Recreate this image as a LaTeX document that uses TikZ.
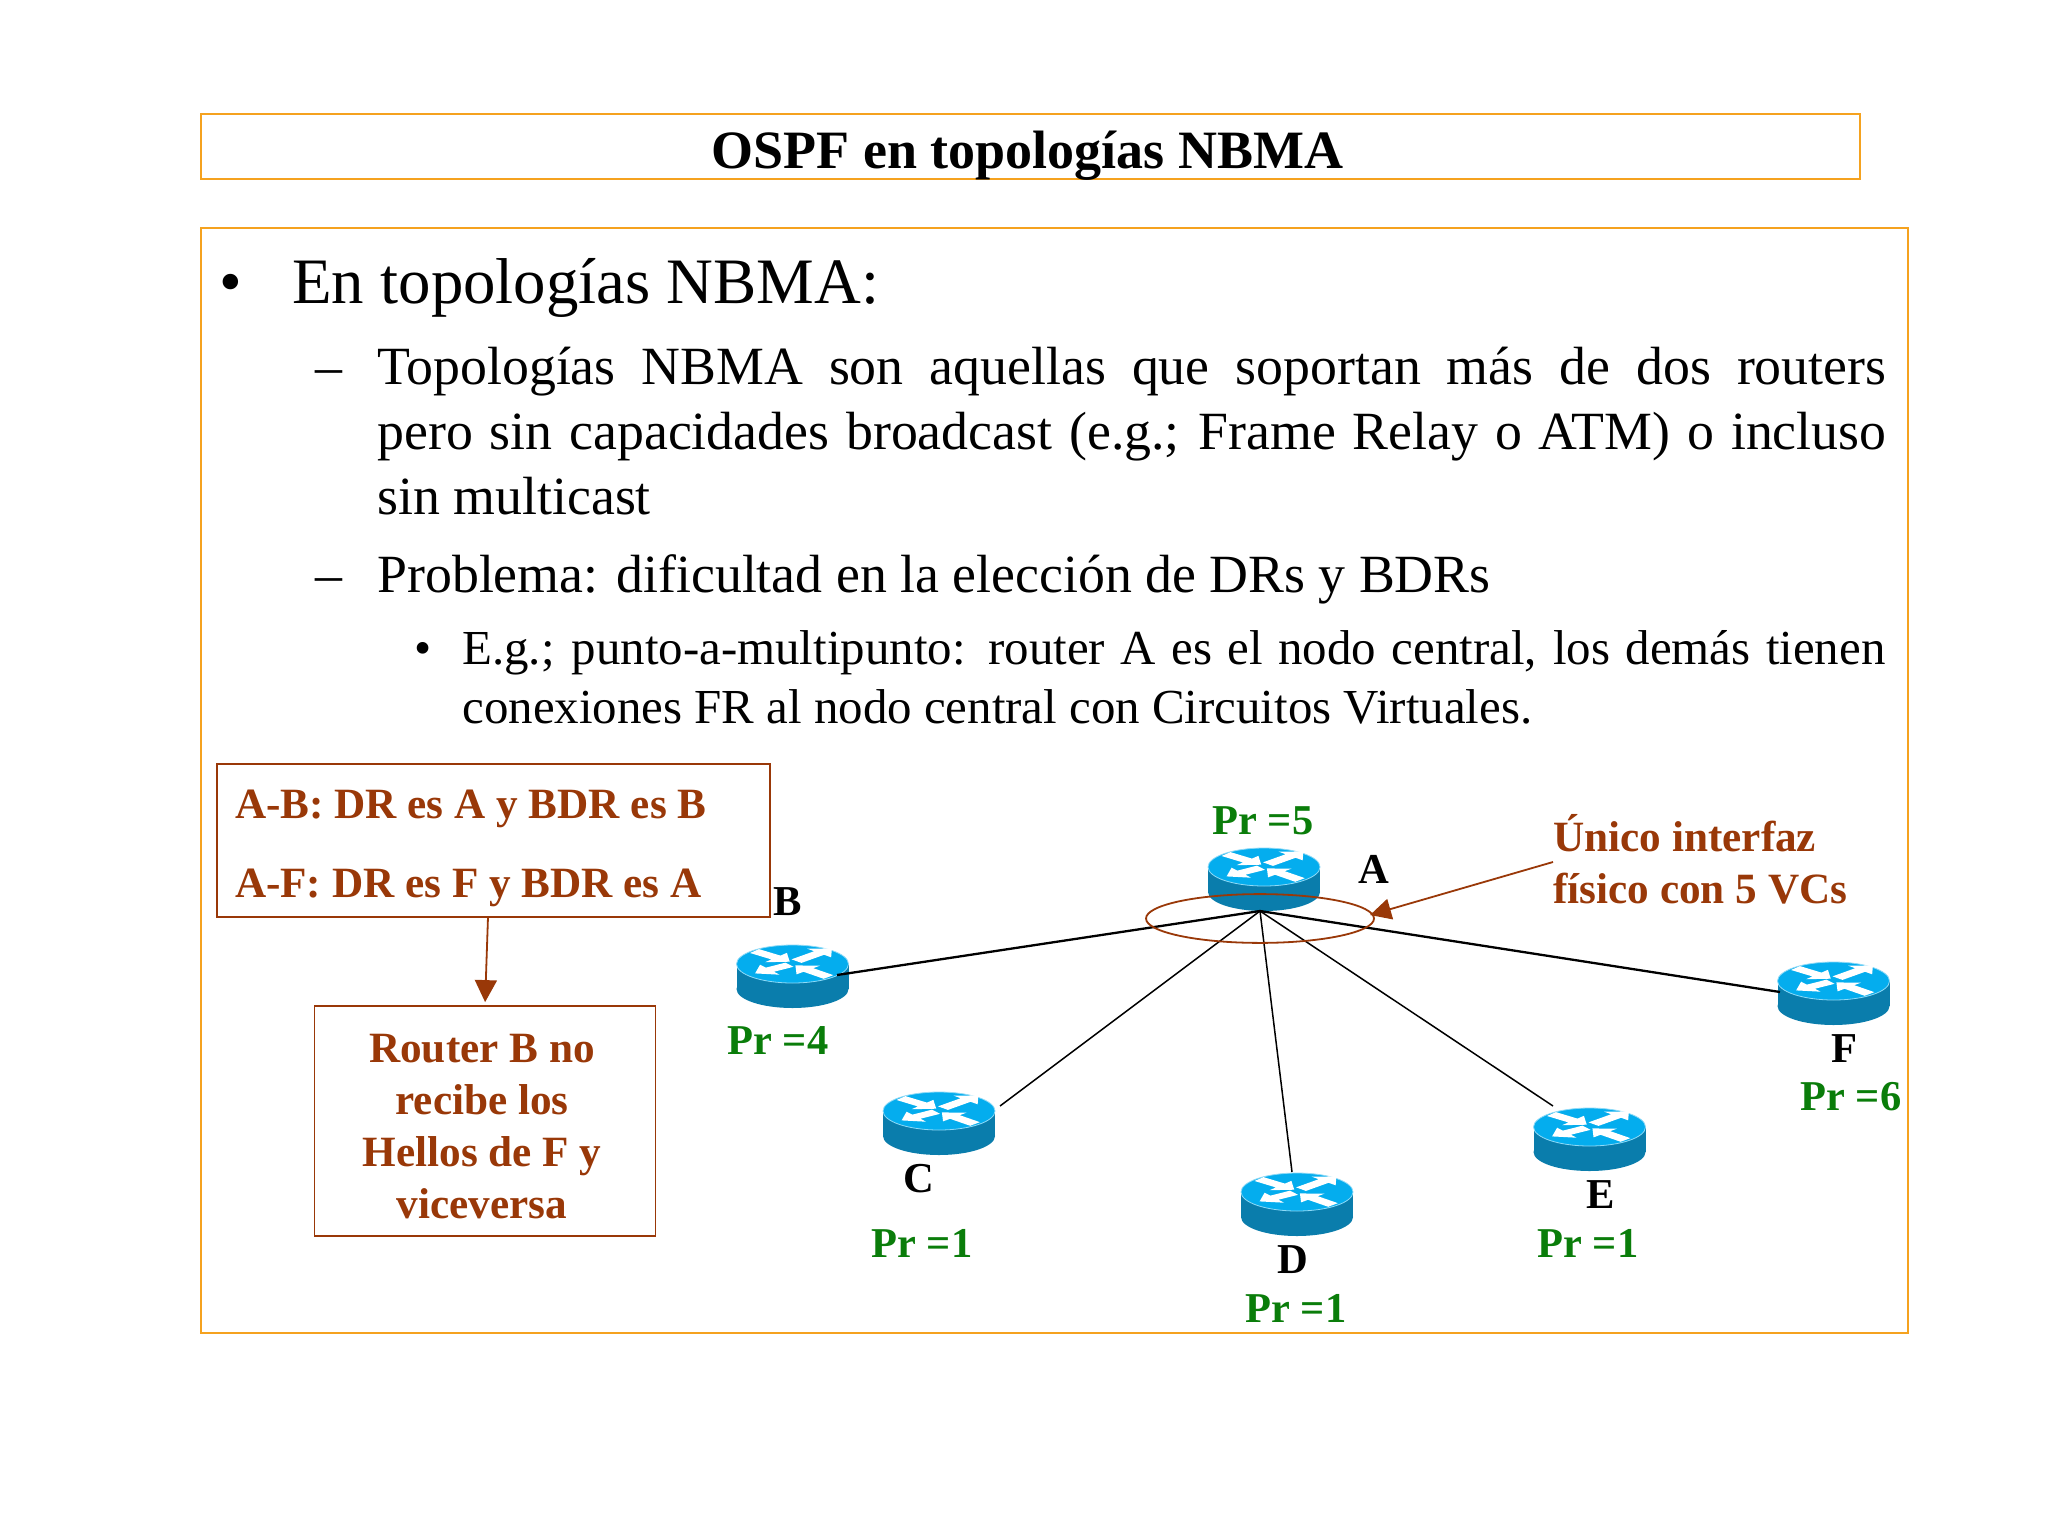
\documentclass[tikz,border=0pt]{standalone}
\usepackage{fontspec}
\setmainfont{Liberation Serif}
\usetikzlibrary{arrows.meta}
\definecolor{boxorange}{HTML}{F5A21F}
\definecolor{brownred}{HTML}{993808}
\definecolor{prgreen}{HTML}{0A7D0A}
\definecolor{routertop}{HTML}{04ADEE}
\definecolor{routerside}{HTML}{0A7DAC}
\tikzset{
  x=0.5pt,y=-0.5pt,
  orangebox/.style={draw=boxorange,line width=1.4pt,inner sep=0pt},
  brownbox/.style={draw=brownred,line width=0.9pt,inner sep=0pt},
  txt/.style={inner sep=0pt,anchor=base west},
  prlab/.style={txt,text=prgreen,font=\fontsize{21.25pt}{26pt}\selectfont\bfseries},
  rlab/.style={txt,text=black,font=\fontsize{21.3pt}{26pt}\selectfont\bfseries},
  brownlab/.style={txt,text=brownred,font=\fontsize{21.6pt}{26pt}\selectfont\bfseries},
  lvlone/.style={txt,font=\fontsize{32.4pt}{38pt}\selectfont},
  lvltwo/.style={txt,font=\fontsize{26.9pt}{32.5pt}\selectfont},
  lvlthree/.style={txt,font=\fontsize{24.45pt}{29.5pt}\selectfont},
  link/.style={draw=black,line width=0.75pt},
  linkthick/.style={draw=black,line width=1.15pt},
  brownarrow/.style={draw=brownred,line width=0.9pt,-{Triangle[length=11pt,width=11pt]}},
  calloutarrow/.style={draw=brownred,line width=0.9pt,-{Triangle[length=10.5pt,width=10.5pt]}},
}
\newcommand{\routerarrow}[4]{% rotation, start x, start y, length
  \fill[white,shift={(#2,#3)},rotate=#1] (0,-7) -- (#4-18,-7) -- (#4-18,-17) -- (#4,0) -- (#4-18,17) -- (#4-18,7) -- (0,7) -- cycle;}
\newcommand{\routericon}[3]{%
  \begin{scope}[shift={(#2,#3)}]
    \fill[routerside] (-56,0) rectangle (56,25);
    \fill[routerside] (0,25) ellipse [x radius=28pt,y radius=9.5pt];
    \fill[routertop] (0,0) ellipse [x radius=28pt,y radius=9.5pt];
    \draw[white!55!routertop,line width=0.4pt] (0,0) ellipse [x radius=28pt,y radius=9.5pt];
    \begin{scope}[yscale=.36]
      \routerarrow{45}{4}{-8}{50}
      \routerarrow{-40}{-38}{-36}{46}
      \routerarrow{215}{-3}{2}{42}
      \routerarrow{136}{36}{36}{46}
    \end{scope}
    \node[inner sep=0pt,minimum width=56pt,minimum height=32pt] (#1) at (0,12.5) {};
  \end{scope}}
\begin{document}
\begin{tikzpicture}
\useasboundingbox (0,0) rectangle (2048,1536);
\fill[white] (0,0) rectangle (2048,1536);
% frames
\node[orangebox,minimum width=829.5pt,minimum height=32.5pt,font=\fontsize{27pt}{32pt}\selectfont\bfseries,text height=21.5pt,text depth=0pt] (title) at (1030.5,146.5) {OSPF en topologías NBMA\hspace*{3pt}};
\node[orangebox,minimum width=853.5pt,minimum height=552.5pt] (frame) at (1054.5,780.5) {};
% body text
\node[lvlone] (b1) at (219,303) {•};
\node[lvlone] (t1) at (292,303) {En topologías NBMA:};
\node[lvltwo] (d1) at (315,384) {–};
\node[lvltwo,text width=754.5pt,align=justify] (t2) at (377,384) {Topologías NBMA son aquellas que soportan más de dos routers\linebreak pero sin capacidades broadcast (e.g.; Frame Relay o ATM) o incluso\linebreak sin multicast};
\node[lvltwo] (d2) at (315,592) {–};
\node[lvltwo] (t3) at (377,592) {Problema: dificultad en la elección de DRs y BDRs};
\node[lvlthree] (b2) at (414,664) {•};
\node[lvlthree,text width=711.5pt,align=justify] (t4) at (462,664) {E.g.; punto-a-multipunto: router A es el nodo central, los demás tienen\linebreak conexiones FR al nodo central con Circuitos Virtuales.};
% left boxes
\node[brownbox,minimum width=276.5pt,minimum height=76.5pt,text width=258.25pt,align=left,text=brownred,font=\fontsize{21.6pt}{39.5pt}\selectfont\bfseries,text depth=36pt] (box1) at (493.25,840.5) {\spaceskip=0pt \xspaceskip=0pt A-B: DR es A y BDR es B\\A-F: DR es F y BDR es A};
\node[brownbox,minimum width=170.5pt,minimum height=115pt,text=brownred,font=\fontsize{21.6pt}{26pt}\selectfont\bfseries] (box2) at (485,1121) {\parbox[c][110pt][b]{160pt}{\centering Router B no\\recibe los\\Hellos de F y\\viceversa\par\vspace{6.2pt}}\hspace*{3pt}};
\coordinate (boxout) at (488,917);
\draw[brownarrow,shorten >=1.5pt] (boxout) -- (box2.north);
% routers
\routericon{A}{1264}{867}
\routericon{B}{792.5}{964}
\routericon{C}{939}{1111}
\routericon{D}{1297}{1192}
\routericon{E}{1589.5}{1127}
\routericon{F}{1833.5}{981}
% connectors
\coordinate (hub) at (1260,911);
\coordinate (portB) at (837,975);
\coordinate (portC) at (1000,1106);
\coordinate (portD) at (1292,1172);
\coordinate (portE) at (1553,1106);
\coordinate (portF) at (1780,992);
\draw[linkthick] (hub) -- (portB);
\draw[link] (hub) -- (portC);
\draw[link] (hub) -- (portD);
\draw[link] (hub) -- (portE);
\draw[linkthick] (hub) -- (portF);
% interface ellipse and callout
\draw[brownred,line width=0.9pt] (1260,918.5) ellipse [x radius=57pt,y radius=12.2pt];
\coordinate (ifedge) at (1370,915);
\coordinate (callfrom) at (1553,862);
\draw[calloutarrow] (callfrom) -- (ifedge);
\node[brownlab] (u1) at (1553,851) {Único interfaz};
\node[brownlab] (u2) at (1553,903) {físico con 5 VCs};
% labels
\node[prlab] (pa) at (1212,834) {Pr =5};
\node[rlab] (la) at (1358,883) {A};
\node[rlab] (lb) at (773,915) {B};
\node[prlab] (pb) at (727,1054) {Pr =4};
\node[rlab] (lc) at (903,1192) {C};
\node[prlab] (pc) at (871,1257) {Pr =1};
\node[rlab] (ld) at (1277,1273) {D};
\node[prlab] (pd) at (1245,1322) {Pr =1};
\node[rlab] (le) at (1586,1208) {E};
\node[prlab] (pe) at (1537,1257) {Pr =1};
\node[rlab] (lf) at (1831,1062) {F};
\node[prlab] (pf) at (1800,1110) {Pr =6};
\end{tikzpicture}
\end{document}
